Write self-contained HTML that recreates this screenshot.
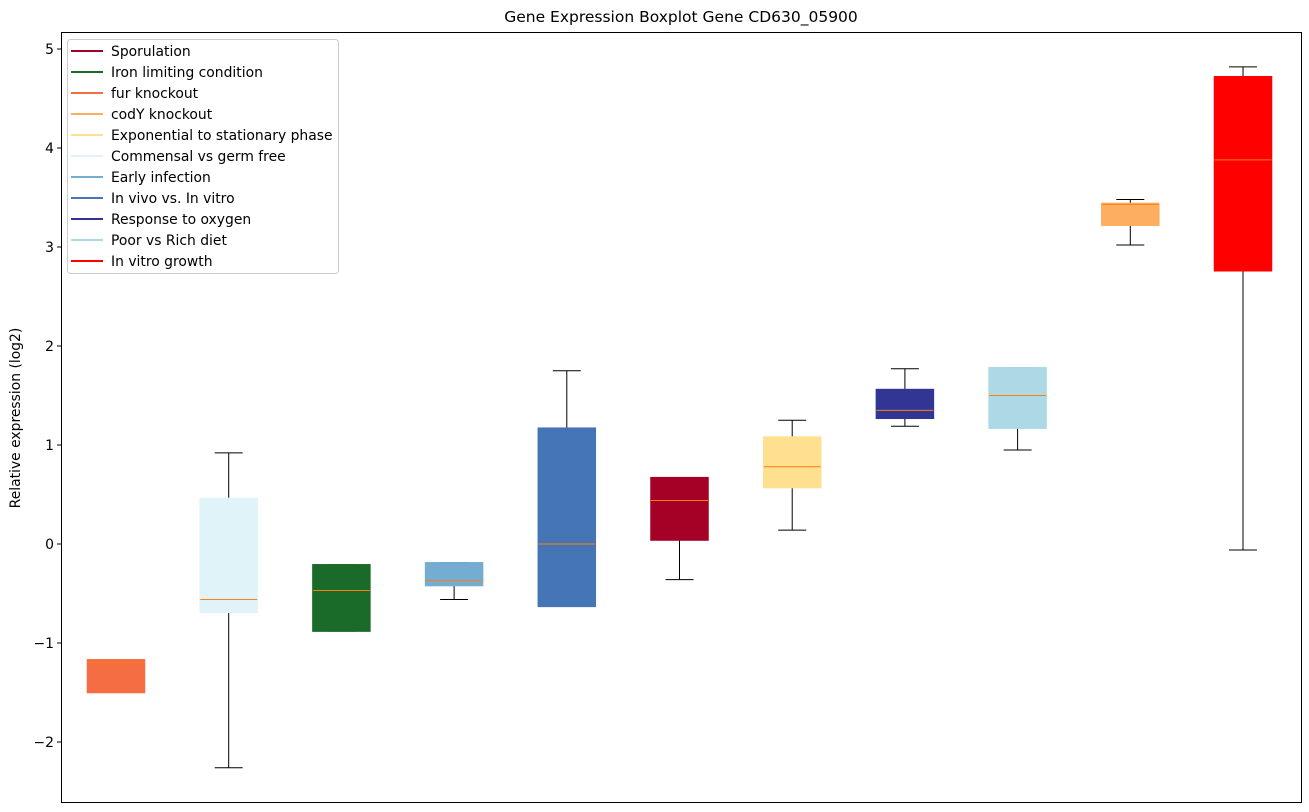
<!DOCTYPE html>
<html><head><meta charset="utf-8"><style>
body{margin:0;background:#fff;}
svg{display:block;font-family:"DejaVu Sans","Liberation Sans",sans-serif;}
</style></head><body>
<svg id="chart" width="1309" height="812" viewBox="0 0 1309 812" xmlns="http://www.w3.org/2000/svg">
<text x="681" y="22" font-size="15.5" text-anchor="middle">Gene Expression Boxplot Gene CD630_05900</text>
<text transform="translate(20,418) rotate(-90)" font-size="13.9" text-anchor="middle">Relative expression (log2)</text>
<g id="boxes"></g>
<g id="yticks"></g>
<rect x="61.5" y="32.5" width="1240" height="770" fill="none" stroke="#000" stroke-width="1"/>
<g id="legend"></g>
</svg>
<script>
const categories=["fur knockout","Commensal vs germ free","Iron limiting condition","Early infection","In vivo vs. In vitro","Sporulation","Exponential to stationary phase","Response to oxygen","Poor vs Rich diet","codY knockout","In vitro growth"];
const colors=["#f46d43","#e0f3f8","#1a6b2a","#74add1","#4575b4","#a50026","#fee090","#313695","#add8e6","#fdae61","#ff0000"];
const whisLo=[-1.5,-2.26,-0.88,-0.56,-0.63,-0.36,0.14,1.19,0.95,3.02,-0.06];
const q1=[-1.5,-0.69,-0.88,-0.42,-0.63,0.04,0.57,1.27,1.17,3.22,2.76];
const median=[-1.2,-0.56,-0.47,-0.37,0.0,0.44,0.78,1.35,1.5,3.43,3.88];
const q3=[-1.17,0.46,-0.21,-0.19,1.17,0.67,1.08,1.56,1.78,3.44,4.72];
const whisHi=[-1.17,0.92,-0.21,-0.19,1.75,0.67,1.25,1.77,1.78,3.48,4.82];
const yTicks=[-2,-1,0,1,2,3,4,5];
const legendLabels=["Sporulation","Iron limiting condition","fur knockout","codY knockout","Exponential to stationary phase","Commensal vs germ free","Early infection","In vivo vs. In vitro","Response to oxygen","Poor vs Rich diet","In vitro growth"];
const legendColors=["#a50026","#1a6b2a","#f46d43","#fdae61","#fee090","#e0f3f8","#74add1","#4575b4","#313695","#add8e6","#ff0000"];

const NS="http://www.w3.org/2000/svg";
const yScale=v=>544-v*99;
const xScale=i=>116+i*112.7;
function mk(tag,attrs,parent){const e=document.createElementNS(NS,tag);for(const k in attrs)e.setAttribute(k,attrs[k]);parent.appendChild(e);return e;}
const gB=document.getElementById('boxes');
categories.forEach((c,i)=>{
  const cx=xScale(i),w=57;
  const g=mk('g',{},gB);
  
  
  let l=mk('line',{x1:cx,x2:cx,y1:yScale(q1[i]),y2:yScale(whisLo[i]),stroke:'#000'},g);
  
  l=mk('line',{x1:cx,x2:cx,y1:yScale(q3[i]),y2:yScale(whisHi[i]),stroke:'#000'},g);
  
  l=mk('line',{x1:cx-14,x2:cx+14,y1:yScale(whisLo[i]),y2:yScale(whisLo[i]),stroke:'#000'},g);
  
  l=mk('line',{x1:cx-14,x2:cx+14,y1:yScale(whisHi[i]),y2:yScale(whisHi[i]),stroke:'#000'},g);
  
  const r=mk('rect',{x:cx-w/2,y:yScale(q3[i]),width:w,height:Math.max(1,yScale(q1[i])-yScale(q3[i])),fill:colors[i],stroke:colors[i],'stroke-width':1.5},g);
  
  l=mk('line',{x1:cx-w/2,x2:cx+w/2,y1:yScale(median[i]),y2:yScale(median[i]),stroke:'#ff7f0e','stroke-width':1},g);
  
});
const gT=document.getElementById('yticks');
yTicks.forEach(t=>{
  const y=yScale(t);
  const l=mk('line',{x1:57,x2:61,y1:y,y2:y,stroke:'#000'},gT);
  
  const tx=mk('text',{x:54,y:y+5,'font-size':13.9,'text-anchor':'end'},gT);
  tx.textContent=t<0?'\u2212'+(-t):String(t);
  
});
const gL=document.getElementById('legend');


const lb=mk('rect',{x:67.5,y:39.5,width:271,height:234,rx:3,fill:'#fff','fill-opacity':0.8,stroke:'#ccc'},gL);

legendLabels.forEach((s,i)=>{
  const y=51+i*21;
  const g=mk('g',{},gL);
  
  
  mk('line',{x1:71,x2:103,y1:y,y2:y,stroke:legendColors[i],'stroke-width':2},g);
  const t=mk('text',{x:111,y:y+5,'font-size':13.9},g);
  t.textContent=s;
});
</script>
</body></html>
